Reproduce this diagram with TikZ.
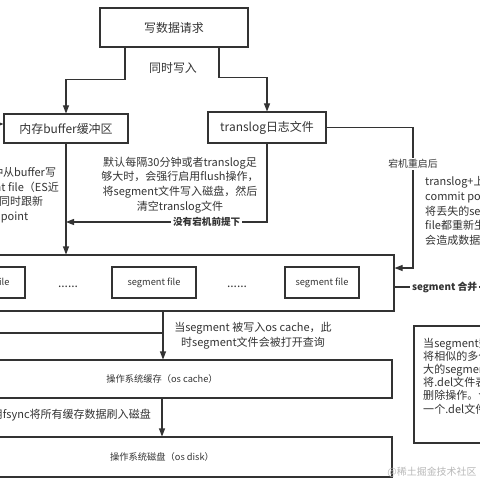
\documentclass[tikz,border=0pt]{standalone}
\usepackage{fontspec}
\setmainfont{Noto Sans CJK SC}
\usetikzlibrary{arrows.meta}
\definecolor{ink}{HTML}{333333}
\definecolor{mark}{HTML}{B8B8B8}

\begin{document}
\begin{tikzpicture}[x=0.03cm, y=-0.03cm, text=ink, font=\fontsize{10.2}{13}\selectfont]
    \tikzstyle{box} = [rectangle, draw=ink, line width=0.9pt, inner sep=0pt]
    \tikzstyle{line} = [draw=ink, line width=0.9pt, -{Triangle[length=2.4mm, width=1.8mm]}]
    \tikzstyle{plain} = [draw=ink, line width=0.9pt]
    \tikzstyle{note} = [align=center, inner sep=0pt, font=\fontsize{9.4}{12.5}\selectfont]
    \tikzstyle{small} = [font=\fontsize{7.9}{10}\selectfont]
    \tikzstyle{tag} = [fill=white, inner sep=1.5pt, font=\fontsize{8.4}{10}\selectfont]

    \clip (0,0) rectangle (480,480);

    % boxes
    \node [box, minimum width=4.44cm, minimum height=1.17cm] (request) at (174,27.5) {写数据请求};
    \node [box, minimum width=3.72cm, minimum height=0.87cm] (buffer) at (66,128.5) {内存buffer缓冲区};
    \node [box, minimum width=3.54cm, minimum height=0.93cm] (translog) at (267,127.5) {translog日志文件};
    \node (together) at (173,68) {同时写入};

    \node [box, minimum width=13.86cm, minimum height=1.68cm] (segments) at (163,283) {};
    \node [box, small, minimum width=2.52cm, minimum height=0.93cm] (seg1) at (-17,282.5) {segment file};
    \node [box, small, minimum width=2.52cm, minimum height=0.93cm] (seg2) at (154,282.5) {segment file};
    \node [box, small, minimum width=2.22cm, minimum height=0.93cm] (seg3) at (322,282.5) {segment file};
    \node (dots1) at (68,287) {......};
    \node (dots2) at (237,287) {......};

    \node [box, small, minimum width=13.8cm, minimum height=1.14cm] (cache) at (162,379) {操作系统缓存（os cache）};
    \node [box, small, minimum width=13.8cm, minimum height=1.2cm] (disk) at (162,457) {操作系统磁盘（os disk）};
    \node [box, minimum width=4.38cm, minimum height=3.51cm] (merge) at (487,384.5) {};

    % notes
    \node [note] (refresh) at (-6.5,195) {然后每隔1秒钟从buffer写\\入新的segment file（ES近\\实时原因）同时跟新\\commit point};
    \node [note] (flush) at (180,185) {默认每隔30分钟或者translog足\\够大时，会强行启用flush操作，\\将segment文件写入磁盘，然后\\清空translog文件};
    \node [note, align=left, anchor=west] (recover) at (425,211) {translog+上次的\\commit point\\将丢失的segment\\file都重新生成，不\\会造成数据丢失};
    \node [note] (open) at (253,336) {当segment 被写入os cache，此\\时segment文件会被打开查询};
    \node [note, anchor=east] (fsync) at (151,415) {调用fsync将所有缓存数据刷入磁盘};
    \node [note, align=left, anchor=west, font=\fontsize{9.4}{11.2}\selectfont] (mergetext) at (423,376) {当segment数量过多时，\\将相似的多个segment合并\\大的segment，合并时会\\将.del文件表示的文件\\删除操作。合并后只有\\一个.del文件};
    \node [text=mark, font=\fontsize{8.5}{10}\selectfont] (watermark) at (432,472) {@稀土掘金技术社区};

    % free ends
    \coordinate (bufin) at (-20,124);
    \coordinate (crash) at (413,268);
    \coordinate (nocrash) at (66,222);
    \coordinate (leftin) at (-30,333);
    \coordinate (mergeout) at (520,287);

    % connectors
    \draw [line] ([xshift=-1.47cm]request.south) -- ++(0,32) -| (buffer.north);
    \draw [line] ([xshift=1.35cm]request.south) -- ++(0,30) -| (translog.north);
    \draw [line] (bufin) -- (bufin -| buffer.west);
    \draw [line] (buffer.south) -- (buffer.south |- segments.north);
    \draw [line] (translog.south) |- node [tag, font=\fontsize{8.2}{10}\selectfont\bfseries, pos=0.65] {没有宕机前提下} (nocrash);
    \draw [line] (translog.east) -| node [tag, pos=0.63] {宕机重启后} (crash) -- (crash -| segments.east);
    \draw [plain] (mergeout -| segments.east) -- node [tag, font=\fontsize{8.4}{10}\selectfont\bfseries, pos=0.4] {segment 合并} (mergeout);
    \draw [line] (segments.south) -- (segments.south |- cache.north);
    \draw [plain] (leftin) -- (leftin -| segments.south);
    \draw [line] (cache.south) -- (disk.north);
\end{tikzpicture}
\end{document}
